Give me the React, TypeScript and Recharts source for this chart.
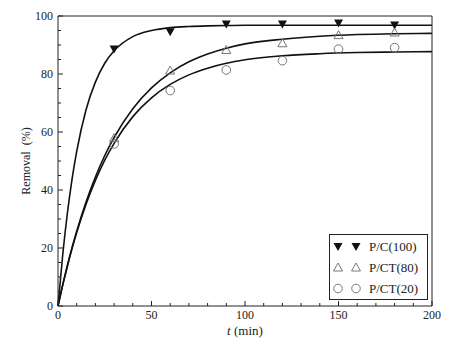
import { ComposedChart, Line, Scatter, XAxis, YAxis, Legend } from "recharts";

// measured points
const times = [30, 60, 90, 120, 150, 180];
const pc100 = [88.6, 94.6, 97.2, 97.2, 97.6, 96.9];
const pct80 = [57.9, 81.2, 88.3, 90.6, 93.4, 94.3];
const pct20 = [55.9, 74.3, 81.4, 84.6, 88.6, 89.1];

// fitted curves
const fitTimes = [0, 2.5, 5, 7.5, 10, 15, 20, 25, 30, 40, 50, 60, 70, 80, 90, 100, 120, 140, 160, 180, 200];
const pc100Fit = [0, 17.5, 31.9, 43.7, 53.3, 67.7, 77.2, 83.7, 88.0, 92.9, 95.0, 96.0, 96.4, 96.6, 96.7, 96.8, 96.8, 96.8, 96.8, 96.8, 96.8];
const pct80Fit = [0, 7.2, 13.9, 20.1, 25.8, 35.9, 44.5, 51.9, 58.1, 68.0, 75.2, 80.4, 84.2, 86.9, 88.9, 90.4, 92.0, 93.0, 93.6, 93.9, 94.0];
const pct20Fit = [0, 7.2, 13.7, 19.8, 25.3, 35.1, 43.3, 50.3, 56.1, 65.3, 71.8, 76.4, 79.7, 82.0, 83.7, 84.9, 86.3, 87.0, 87.4, 87.6, 87.7];

const xTicks = [0, 10, 20, 30, 40, 50, 60, 70, 80, 90, 100, 110, 120, 130, 140, 150, 160, 170, 180, 190, 200];
const xLabels = [0, 50, 100, 150, 200];
const yTicks = [0, 5, 10, 15, 20, 25, 30, 35, 40, 45, 50, 55, 60, 65, 70, 75, 80, 85, 90, 95, 100];
const yLabels = [0, 20, 40, 60, 80, 100];

const seriesNames = ["P/C(100)", "P/CT(80)", "P/CT(20)"];

const toPts = (ts: number[], vs: number[]) => ts.map((t, i) => ({ t, r: vs[i] }));

const FONT = "Liberation Serif";
const AX = "#222";
const MARK = "#777";

const BottomTick = ({ x, y, payload }: any) => {
  const major = xLabels.includes(payload.value);
  return (
    <g>
      <line x1={x} x2={x} y1={y} y2={y - (major ? 5 : 3)} stroke={AX} />
      {major && (
        <text x={x} y={y + 13} textAnchor="middle" fontSize={12} style={{ fontFamily: FONT }} fill="#222">
          {payload.value}
        </text>
      )}
    </g>
  );
};

const TopTick = ({ x, y, payload }: any) => {
  const major = xLabels.includes(payload.value);
  return <line x1={x} x2={x} y1={y} y2={y + (major ? 5 : 3)} stroke={AX} />;
};

const LeftTick = ({ x, y, payload }: any) => {
  const major = yLabels.includes(payload.value);
  return (
    <g>
      <line x1={x} x2={x + (major ? 5 : 3)} y1={y} y2={y} stroke={AX} />
      {major && (
        <text x={x - 5} y={y + 4} textAnchor="end" fontSize={12} style={{ fontFamily: FONT }} fill="#222">
          {payload.value}
        </text>
      )}
    </g>
  );
};

const RightTick = ({ x, y, payload }: any) => {
  const major = yLabels.includes(payload.value);
  return <line x1={x} x2={x - (major ? 5 : 3)} y1={y} y2={y} stroke={AX} />;
};

const DownTri = ({ cx, cy }: any) => (
  <polygon points={`${cx - 4.5},${cy - 3.5} ${cx + 4.5},${cy - 3.5} ${cx},${cy + 4.5}`} fill="#111" />
);
const UpTri = ({ cx, cy }: any) => (
  <polygon points={`${cx},${cy - 4.5} ${cx - 4.5},${cy + 3.5} ${cx + 4.5},${cy + 3.5}`} fill="none" stroke={MARK} strokeWidth={1} />
);
const Circ = ({ cx, cy }: any) => <circle cx={cx} cy={cy} r={4.3} fill="none" stroke={MARK} strokeWidth={1} />;

const shapes = [DownTri, UpTri, Circ];

const LegendBox = () => (
  <div
    style={{
      width: 99,
      height: 66,
      boxSizing: "border-box",
      border: "1px solid #222",
      background: "#fff",
      padding: "1px 0",
      fontFamily: FONT,
      fontSize: 13,
      color: "#222",
    }}
  >
    {seriesNames.map((name, i) => {
      const S = shapes[i];
      return (
        <div key={name} style={{ display: "flex", alignItems: "center", height: 21 }}>
          <svg width={36} height={21} style={{ display: "block" }}>
            <S cx={8} cy={10.5} />
            <S cx={26} cy={10.5} />
          </svg>
          <span style={{ marginLeft: 3 }}>{name}</span>
        </div>
      );
    })}
  </div>
);

export default function App() {
  const fits = [pc100Fit, pct80Fit, pct20Fit];
  const pts = [pc100, pct80, pct20];

  return (
    <div style={{ position: "absolute", left: 0, top: 0, background: "#fff" }}>
      <ComposedChart width={450} height={346} margin={{ top: 0, right: 0, bottom: 0, left: 0 }}>
        <XAxis
          dataKey="t"
          type="number"
          domain={[0, 200]}
          ticks={xTicks}
          interval={0}
          tickSize={0}
          tickMargin={0}
          tickLine={false}
          tick={<BottomTick />}
          height={40}
          stroke={AX}
          label={{
            content: () => (
              <text x={245} y={335} textAnchor="middle" fontSize={13} style={{ fontFamily: FONT }} fill="#222">
                <tspan fontStyle="italic">t</tspan> (min)
              </text>
            ),
          }}
        />
        <XAxis
          xAxisId="top"
          orientation="top"
          type="number"
          domain={[0, 200]}
          ticks={xTicks}
          interval={0}
          tickSize={0}
          tickMargin={0}
          tickLine={false}
          tick={<TopTick />}
          height={16}
          stroke={AX}
        />
        <YAxis
          dataKey="r"
          type="number"
          domain={[0, 100]}
          ticks={yTicks}
          interval={0}
          tickSize={0}
          tickMargin={0}
          tickLine={false}
          tick={<LeftTick />}
          width={58}
          stroke={AX}
          label={{
            content: () => (
              <text
                x={26}
                y={161}
                transform="rotate(-90 26 161)"
                textAnchor="middle"
                dominantBaseline="central"
                fontSize={12}
                fill="#222"
                style={{ whiteSpace: "pre", fontFamily: FONT }}
              >
                Removal  (%)
              </text>
            ),
          }}
        />
        <YAxis
          yAxisId="right"
          orientation="right"
          type="number"
          domain={[0, 100]}
          ticks={yTicks}
          interval={0}
          tickSize={0}
          tickMargin={0}
          tickLine={false}
          tick={<RightTick />}
          width={18}
          stroke={AX}
        />
        {fits.map((f, i) => (
          <Line
            key={`fit-${i}`}
            data={toPts(fitTimes, f)}
            dataKey="r"
            type="monotone"
            stroke="#111"
            strokeWidth={1.6}
            dot={false}
            activeDot={false}
            isAnimationActive={false}
            legendType="none"
          />
        ))}
        {pts.map((p, i) => (
          <Scatter
            key={`pts-${i}`}
            name={seriesNames[i]}
            data={toPts(times, p)}
            dataKey="r"
            shape={shapes[i]}
            isAnimationActive={false}
          />
        ))}
        <Legend
          layout="vertical"
          align="center"
          verticalAlign="middle"
          content={<LegendBox />}
          wrapperStyle={{ position: "absolute", left: 329, top: 234, width: 99, height: 66 }}
        />
      </ComposedChart>
    </div>
  );
}
